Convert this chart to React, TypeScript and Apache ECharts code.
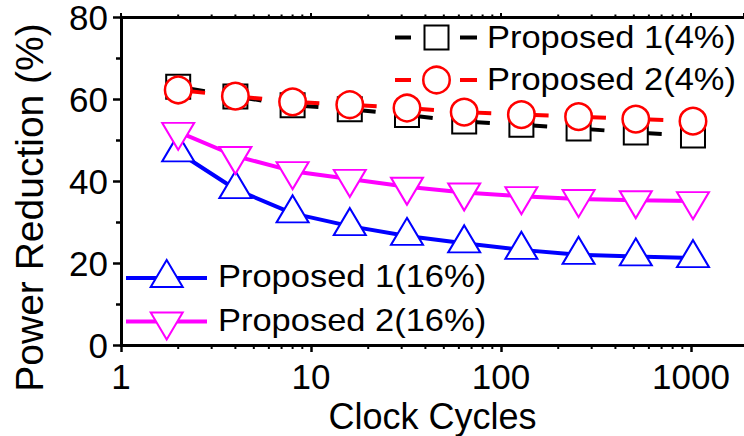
import { useEffect, useRef } from 'react';
import * as echarts from 'echarts';

// Clock cycles on the x axis (log scale) and power reduction (%) per design.
const cycles = [2, 4, 8, 16, 32, 64, 128, 256, 512, 1024];
const proposed1At4 = [63.0, 60.6, 58.5, 57.5, 56.1, 54.5, 53.7, 52.8, 51.8, 51.1];
const proposed2At4 = [62.2, 60.7, 59.3, 58.6, 57.8, 56.8, 56.2, 55.7, 55.1, 54.6];
const proposed1At16 = [47.0, 38.0, 32.1, 29.0, 26.6, 24.8, 23.2, 22.0, 21.6, 21.2];
const proposed2At16 = [52.0, 46.1, 42.4, 40.5, 38.6, 37.2, 36.3, 35.6, 35.3, 35.1];
const seriesNames = ['Proposed 1(4%)', 'Proposed 2(4%)', 'Proposed 1(16%)', 'Proposed 2(16%)'];
const xTickLabels = ['1', '10', '100', '1000'];
const xMinorTicks = [2, 3, 4, 5, 6, 7, 8, 9, 20, 30, 40, 50, 60, 70, 80, 90, 200, 300, 400, 500, 600, 700, 800, 900];

const FONT = '"Liberation Sans", Arial, Helvetica, sans-serif';
const BLACK = '#000000';
const RED = '#ff0000';
const BLUE = '#0000ff';
const MAGENTA = '#ff00ff';
const SQUARE = 24;
const CIRCLE = 26.5;
const TRI_W = 32;
const TRI_H = 27;
const TEXT_STRETCH = 1.13;

const pairs = (ys: number[]) => cycles.map((c, i) => [c, ys[i]]);

export default function App() {
  const ref = useRef<HTMLDivElement>(null);

  useEffect(() => {
    if (!ref.current) return;
    const chart = echarts.init(ref.current, null, { renderer: 'svg' });

    const axisLine = { show: true, onZero: false, lineStyle: { color: BLACK, width: 3 } };

    chart.setOption({
      animation: false,
      backgroundColor: '#ffffff',
      grid: { left: 121, right: 0, top: 17, bottom: 91, containLabel: false, outerBoundsMode: 'none' },
      xAxis: [
        {
          type: 'log',
          logBase: 10,
          min: 1,
          max: 1900,
          position: 'bottom',
          axisLine,
          axisTick: { show: true, inside: false, length: 7, lineStyle: { color: BLACK, width: 2.5 } },
          minorTick: { show: false },
          splitLine: { show: false },
          axisLabel: {
            margin: 14,
            color: BLACK,
            fontFamily: FONT,
            fontSize: 35,
            showMinLabel: true,
            showMaxLabel: false,
            formatter: (v: number) => {
              const r = Math.round(v);
              return xTickLabels.find((t) => Number(t) === r) ?? '';
            },
          },
          name: 'Clock Cycles',
          nameLocation: 'middle',
          nameGap: 45,
          nameTextStyle: { color: BLACK, fontFamily: FONT, fontSize: 36 },
        },
        {
          type: 'log',
          logBase: 10,
          min: 1,
          max: 1900,
          position: 'top',
          axisLine,
          axisTick: { show: true, inside: false, length: 4, lineStyle: { color: BLACK, width: 2 } },
          axisLabel: { show: false },
          splitLine: { show: false },
        },
      ],
      yAxis: {
        type: 'value',
        min: 0,
        max: 80,
        interval: 20,
        axisLine,
        axisTick: { show: true, inside: false, length: 8, lineStyle: { color: BLACK, width: 2.5 } },
        minorTick: { show: true, splitNumber: 2, length: 5, lineStyle: { color: BLACK, width: 2.5 } },
        splitLine: { show: false },
        axisLabel: { margin: 13, color: BLACK, fontFamily: FONT, fontSize: 35, lineHeight: 28 },
      },
      series: [
        {
          name: seriesNames[0],
          type: 'line',
          data: pairs(proposed1At4),
          symbol: 'rect',
          symbolSize: SQUARE,
          itemStyle: { color: '#ffffff', borderColor: BLACK, borderWidth: 2 },
          lineStyle: { color: BLACK, width: 4, type: [30, 27.4], dashOffset: 3 },
        },
        {
          name: seriesNames[1],
          type: 'line',
          data: pairs(proposed2At4),
          symbol: 'circle',
          symbolSize: CIRCLE,
          itemStyle: { color: '#ffffff', borderColor: RED, borderWidth: 2.5 },
          lineStyle: { color: RED, width: 4, type: [27, 30.4] },
        },
        {
          name: seriesNames[2],
          type: 'line',
          data: pairs(proposed1At16),
          symbol: 'triangle',
          symbolSize: [TRI_W, TRI_H],
          symbolOffset: [0, -TRI_H / 6],
          itemStyle: { color: '#ffffff', borderColor: BLUE, borderWidth: 2 },
          lineStyle: { color: BLUE, width: 4 },
        },
        {
          name: seriesNames[3],
          type: 'line',
          data: pairs(proposed2At16),
          symbol: 'triangle',
          symbolRotate: 180,
          symbolSize: [TRI_W, TRI_H],
          symbolOffset: [0, TRI_H / 6],
          itemStyle: { color: '#ffffff', borderColor: MAGENTA, borderWidth: 2 },
          lineStyle: { color: MAGENTA, width: 4 },
        },
      ],
    });

    // Log-decade minor ticks on the bottom and top frame lines.
    const px = (v: number) => chart.convertToPixel({ xAxisIndex: 0 }, v) as number;
    const yBottom = chart.convertToPixel({ yAxisIndex: 0 }, 0) as number;
    const yTop = chart.convertToPixel({ yAxisIndex: 0 }, 80) as number;
    const minorTicks: any[] = [];
    xMinorTicks.forEach((v) => {
      const x = px(v);
      minorTicks.push({
        type: 'line',
        silent: true,
        shape: { x1: x, y1: yBottom, x2: x, y2: yBottom + 4 },
        style: { stroke: BLACK, lineWidth: 2 },
      });
      minorTicks.push({
        type: 'line',
        silent: true,
        shape: { x1: x, y1: yTop, x2: x, y2: yTop - 2.5 },
        style: { stroke: BLACK, lineWidth: 2 },
      });
    });

    const legendText = (text: string, x: number, y: number) => ({
      type: 'text',
      x,
      y,
      scaleX: TEXT_STRETCH,
      silent: true,
      style: { text, fill: BLACK, fontFamily: FONT, fontSize: 30.5, align: 'left', verticalAlign: 'middle' },
    });
    const seg = (x1: number, x2: number, y: number, stroke: string) => ({
      type: 'line',
      silent: true,
      shape: { x1, y1: y, x2, y2: y },
      style: { stroke, lineWidth: 4 },
    });
    const upTriangle = (cx: number, cy: number, stroke: string) => ({
      type: 'polygon',
      silent: true,
      shape: {
        points: [
          [cx, cy - (2 * TRI_H) / 3],
          [cx + TRI_W / 2, cy + TRI_H / 3],
          [cx - TRI_W / 2, cy + TRI_H / 3],
        ],
      },
      style: { fill: '#ffffff', stroke, lineWidth: 2 },
    });
    const downTriangle = (cx: number, cy: number, stroke: string) => ({
      type: 'polygon',
      silent: true,
      shape: {
        points: [
          [cx - TRI_W / 2, cy - TRI_H / 3],
          [cx + TRI_W / 2, cy - TRI_H / 3],
          [cx, cy + (2 * TRI_H) / 3],
        ],
      },
      style: { fill: '#ffffff', stroke, lineWidth: 2 },
    });

    // Upper-right key for the 4% series.
    const kTop = { dashL: [395, 411], dashR: [460, 477], icon: 436.5, text: 487, rows: [37.5, 80] };
    // Lower-left key for the 16% series.
    const kBot = { line: [126, 207], icon: 166.7, text: 218, rows: [278, 321.5] };

    const legend: any[] = [
      seg(kTop.dashL[0], kTop.dashL[1], kTop.rows[0], BLACK),
      seg(kTop.dashR[0], kTop.dashR[1], kTop.rows[0], BLACK),
      {
        type: 'rect',
        silent: true,
        shape: { x: kTop.icon - SQUARE / 2, y: kTop.rows[0] - SQUARE / 2, width: SQUARE, height: SQUARE },
        style: { fill: '#ffffff', stroke: BLACK, lineWidth: 2 },
      },
      legendText(seriesNames[0], kTop.text, kTop.rows[0]),
      seg(kTop.dashL[0], kTop.dashL[1], kTop.rows[1], RED),
      seg(kTop.dashR[0], kTop.dashR[1], kTop.rows[1], RED),
      {
        type: 'circle',
        silent: true,
        shape: { cx: kTop.icon, cy: kTop.rows[1], r: CIRCLE / 2 },
        style: { fill: '#ffffff', stroke: RED, lineWidth: 2.5 },
      },
      legendText(seriesNames[1], kTop.text, kTop.rows[1]),
      seg(kBot.line[0], kBot.line[1], kBot.rows[0], BLUE),
      upTriangle(kBot.icon, kBot.rows[0], BLUE),
      legendText(seriesNames[2], kBot.text, kBot.rows[0] - 1),
      seg(kBot.line[0], kBot.line[1], kBot.rows[1], MAGENTA),
      downTriangle(kBot.icon, kBot.rows[1], MAGENTA),
      legendText(seriesNames[3], kBot.text, kBot.rows[1] - 1),
    ];

    const yTitle = {
      type: 'text',
      x: 29,
      y: 207.5,
      rotation: Math.PI / 2,
      silent: true,
      style: {
        text: 'Power Reduction (%)',
        fill: BLACK,
        fontFamily: FONT,
        fontSize: 39,
        align: 'center',
        verticalAlign: 'middle',
      },
    };

    chart.setOption({ graphic: [...minorTicks, ...legend, yTitle] });

    return () => chart.dispose();
  }, []);

  return (
    <div
      ref={ref}
      style={{ position: 'fixed', left: 0, top: 0, width: 744, height: 436, background: '#ffffff' }}
    />
  );
}
